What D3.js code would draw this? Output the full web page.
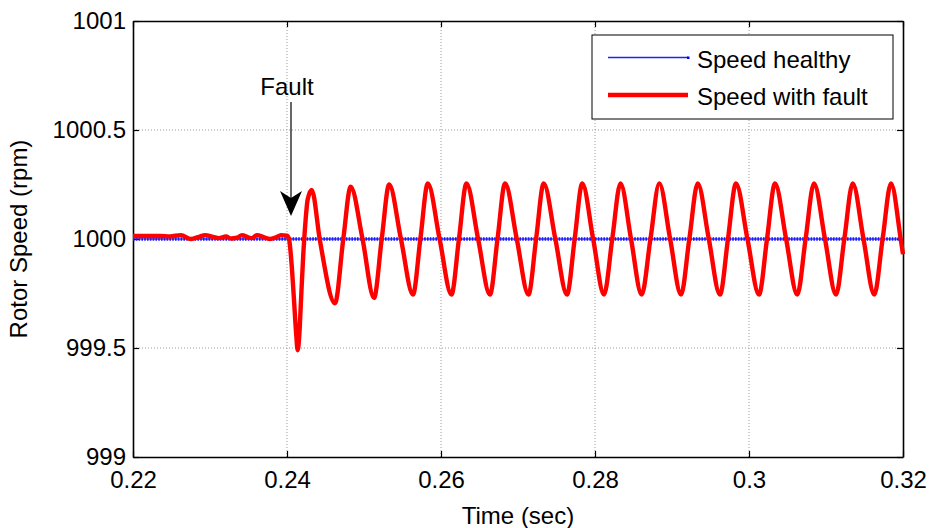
<!DOCTYPE html>
<html>
<head>
<meta charset="utf-8">
<script src="https://cdn.jsdelivr.net/npm/d3@7/dist/d3.min.js"></script>
<style>
  html, body { margin: 0; padding: 0; background: #fff; }
  svg { display: block; font-family: "Liberation Sans", Arial, sans-serif; }
</style>
</head>
<body>
<svg id="chart" width="936" height="528"></svg>
<script>
// ---------- data ----------
const xTicks = [0.22, 0.24, 0.26, 0.28, 0.30, 0.32];
const xTickLabels = ["0.22", "0.24", "0.26", "0.28", "0.3", "0.32"];
const yTicks = [999, 999.5, 1000, 1000.5, 1001];
const yTickLabels = ["999", "999.5", "1000", "1000.5", "1001"];

const healthyTime  = [0.22, 0.32];
const healthySpeed = [1000, 1000];

const faultTime = [
  0.22000, 0.22351, 0.22481, 0.22623, 0.22753, 0.22857, 0.22935, 0.23039, 0.23117, 0.23208,
  0.23273, 0.23351, 0.23416, 0.23494, 0.23545, 0.23610, 0.23688, 0.23779, 0.23857, 0.23922,
  0.24000, 0.24026, 0.24065, 0.24091, 0.24120, 0.24138, 0.24160, 0.24182, 0.24210, 0.24240,
  0.24268, 0.24321, 0.24429, 0.24623, 0.24731, 0.24827, 0.24981, 0.25130, 0.25230, 0.25327,
  0.25480, 0.25636, 0.25732, 0.25829, 0.25982, 0.26136, 0.26233, 0.26331, 0.26482, 0.26636,
  0.26734, 0.26832, 0.26984, 0.27136, 0.27235, 0.27334, 0.27485, 0.27636, 0.27736, 0.27835,
  0.27976, 0.28117, 0.28224, 0.28331, 0.28468, 0.28606, 0.28720, 0.28835, 0.28976, 0.29117,
  0.29225, 0.29334, 0.29478, 0.29623, 0.29727, 0.29831, 0.29980, 0.30130, 0.30234, 0.30338,
  0.30482, 0.30627, 0.30735, 0.30844, 0.30987, 0.31130, 0.31238, 0.31347, 0.31487, 0.31627,
  0.31735, 0.31844, 0.31970, 0.32000
];
const faultSpeed = [
  1000.014, 1000.014, 1000.012, 1000.018, 1000.000, 1000.010, 1000.018, 1000.010, 1000.004, 1000.012,
  1000.002, 1000.006, 1000.018, 1000.008, 1000.004, 1000.018, 1000.010, 1000.000, 1000.008, 1000.018,
  1000.015, 1000.000, 999.860, 999.720, 999.560, 999.490, 999.560, 999.720, 999.920, 1000.080,
  1000.180, 1000.225, 999.990, 999.705, 1000.000, 1000.240, 1000.000, 999.730, 1000.000, 1000.250,
  1000.000, 999.745, 1000.000, 1000.255, 1000.000, 999.745, 1000.000, 1000.255, 1000.000, 999.745,
  1000.000, 1000.255, 1000.000, 999.745, 1000.000, 1000.255, 1000.000, 999.745, 1000.000, 1000.255,
  1000.000, 999.745, 1000.000, 1000.255, 1000.000, 999.745, 1000.000, 1000.255, 1000.000, 999.745,
  1000.000, 1000.255, 1000.000, 999.745, 1000.000, 1000.255, 1000.000, 999.745, 1000.000, 1000.255,
  1000.000, 999.745, 1000.000, 1000.255, 1000.000, 999.745, 1000.000, 1000.255, 1000.000, 999.745,
  1000.000, 1000.255, 1000.000, 999.930
];

const seriesNames = ["Speed healthy", "Speed with fault"];
const annotationText = "Fault";
const annotationTime = 0.24;
const xLabel = "Time (sec)";
const yLabel = "Rotor Speed (rpm)";

// ---------- layout ----------
const svg = d3.select("#chart");
const L = 133, R = 903, T = 21, B = 457;
const x = d3.scaleLinear().domain([0.22, 0.32]).range([L, R]);
const y = d3.scaleLinear().domain([999, 1001]).range([B, T]);
const FS = 24;

// grid
const grid = svg.append("g").attr("stroke", "#9a9a9a").attr("stroke-width", 1)
  .attr("stroke-dasharray", "1,2");
xTicks.slice(1, -1).forEach(t => grid.append("line")
  .attr("x1", x(t)).attr("x2", x(t)).attr("y1", T).attr("y2", B));
yTicks.slice(1, -1).forEach(t => grid.append("line")
  .attr("x1", L).attr("x2", R).attr("y1", y(t)).attr("y2", y(t)));

// axes with inward ticks (all four sides)
const tick = 6;
const axB = d3.axisBottom(x).tickValues(xTicks).tickSizeInner(-tick).tickSizeOuter(0)
  .tickFormat((d, i) => xTickLabels[i]).tickPadding(14);
const axT = d3.axisTop(x).tickValues(xTicks).tickSizeInner(-tick).tickSizeOuter(0).tickFormat("");
const axLft = d3.axisLeft(y).tickValues(yTicks).tickSizeInner(-tick).tickSizeOuter(0)
  .tickFormat((d, i) => yTickLabels[i]).tickPadding(7);
const axRgt = d3.axisRight(y).tickValues(yTicks).tickSizeInner(-tick).tickSizeOuter(0).tickFormat("");

function style(g) {
  g.select(".domain").attr("stroke", "#000").attr("stroke-width", 1.6);
  g.selectAll(".tick line").attr("stroke", "#000").attr("stroke-width", 1.2);
  g.selectAll(".tick text").attr("fill", "#000").style("font-size", FS + "px")
    .style("font-family", "'Liberation Sans', Arial, sans-serif");
}
svg.append("g").attr("transform", `translate(0,${B})`).call(axB).call(style);
svg.append("g").attr("transform", `translate(0,${T})`).call(axT).call(style);
svg.append("g").attr("transform", `translate(${L},0)`).call(axLft).call(style);
svg.append("g").attr("transform", `translate(${R},0)`).call(axRgt).call(style);

// clip
svg.append("clipPath").attr("id", "clip").append("rect")
  .attr("x", L).attr("y", T - 5).attr("width", R - L + 2).attr("height", B - T + 10);

// healthy line
const healthy = healthyTime.map((t, i) => [t, healthySpeed[i]]);
const line = d3.line().x(d => x(d[0])).y(d => y(d[1]));
svg.append("path").datum(healthy).attr("d", line).attr("fill", "none")
  .attr("stroke", "#0000ff").attr("stroke-width", 1);
svg.append("path").datum(healthy).attr("d", line).attr("fill", "none")
  .attr("stroke", "#1a1aff").attr("stroke-width", 3.5).attr("stroke-dasharray", "1.6,1.2");

// fault line
const fault = faultTime.map((t, i) => [t, faultSpeed[i]]);
svg.append("path").datum(fault).attr("clip-path", "url(#clip)")
  .attr("d", d3.line().x(d => x(d[0])).y(d => y(d[1])).curve(d3.curveMonotoneX))
  .attr("fill", "none").attr("stroke", "#ff0000").attr("stroke-width", 4.4)
  .attr("stroke-linejoin", "round");

// annotation
const ax = x(annotationTime) + 4;
svg.append("text").attr("x", x(annotationTime)).attr("y", 95).attr("text-anchor", "middle")
  .style("font-size", FS + "px").attr("fill", "#000").text(annotationText);
svg.append("line").attr("x1", ax).attr("x2", ax).attr("y1", 102).attr("y2", 200)
  .attr("stroke", "#000").attr("stroke-width", 1.2);
svg.append("path")
  .attr("d", `M${ax},216 L${ax - 11},191 L${ax},198 L${ax + 11},191 Z`)
  .attr("fill", "#000");

// legend
const lg = svg.append("g");
lg.append("rect").attr("x", 592).attr("y", 35).attr("width", 301).attr("height", 84)
  .attr("fill", "#fff").attr("stroke", "#000").attr("stroke-width", 1);
lg.append("line").attr("x1", 608).attr("x2", 688).attr("y1", 57.5).attr("y2", 57.5)
  .attr("stroke", "#2020ff").attr("stroke-width", 1.3);
lg.append("rect").attr("x", 687).attr("y", 56.5).attr("width", 2.5).attr("height", 2.5).attr("fill", "#0000ff");
lg.append("line").attr("x1", 608).attr("x2", 688).attr("y1", 95).attr("y2", 95)
  .attr("stroke", "#ff0000").attr("stroke-width", 4.4);
lg.append("text").attr("x", 697).attr("y", 68).style("font-size", FS + "px").text(seriesNames[0]);
lg.append("text").attr("x", 697).attr("y", 105).style("font-size", FS + "px").text(seriesNames[1]);

// axis labels
svg.append("text").attr("x", (L + R) / 2).attr("y", 524).attr("text-anchor", "middle")
  .style("font-size", FS + "px").text(xLabel);
svg.append("text").attr("transform", `translate(27,${(T + B) / 2}) rotate(-90)`)
  .attr("text-anchor", "middle").style("font-size", FS + "px").text(yLabel);
</script>
</body>
</html>
